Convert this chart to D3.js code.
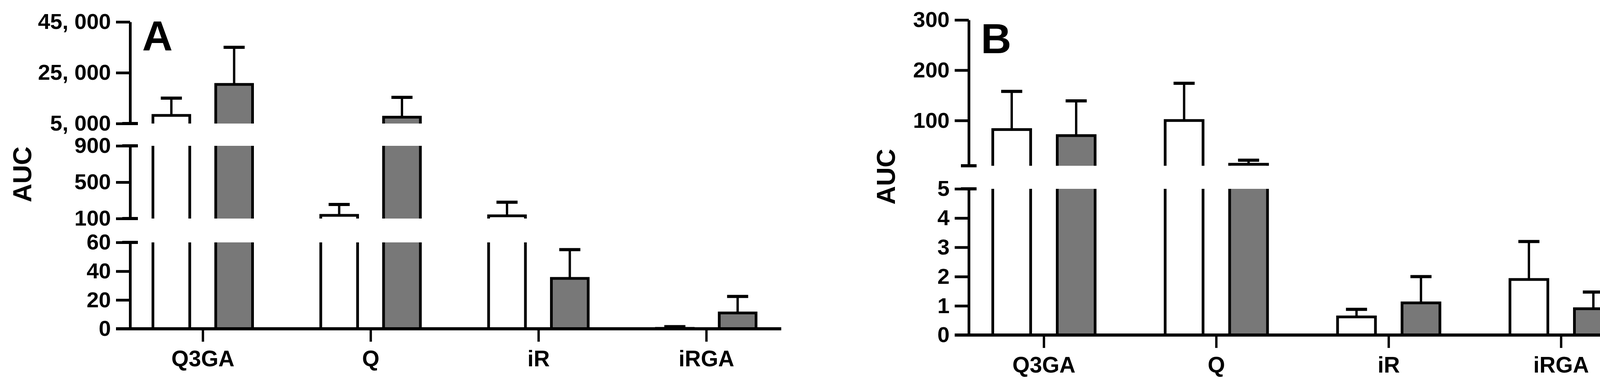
<!DOCTYPE html>
<html>
<head>
<meta charset="utf-8">
<script src="https://cdn.jsdelivr.net/npm/d3@7"></script>
<style>
  html, body { margin: 0; padding: 0; background: #fff; }
  svg { display: block; }
  text { font-family: "Liberation Sans", Arial, Helvetica, sans-serif; font-weight: bold; fill: #000; }
</style>
</head>
<body>
<svg id="chart" width="4240" height="995"></svg>
<script>
// ---------------- DATA ----------------
const categories = ["Q3GA", "Q", "iR", "iRGA"];
const seriesNames = ["open", "filled"];

// Panel A
const aOpen     = [8200, 135, 130, 0.3];
const aOpenSD   = [6800, 120, 150, 1.2];
const aFilled   = [20400, 7500, 35, 11];
const aFilledSD = [14600, 7800, 20, 11.5];
const aSegDomains = [[0, 60], [100, 900], [5000, 45000]];
const aTicks = [[0, 20, 40, 60], [100, 500, 900], [5000, 25000, 45000]];

// Panel B
const bOpen     = [82, 100, 0.62, 1.9];
const bOpenSD   = [76, 74, 0.26, 1.3];
const bFilled   = [70, 13, 1.1, 0.9];
const bFilledSD = [69, 8, 0.9, 0.57];
const bSegDomains = [[0, 5], [10, 300]];
const bTicks = [[0, 1, 2, 3, 4, 5], [100, 200, 300]];

// ---------------- STYLE ----------------
const SW = 7;               // stroke width
const FILL_GRAY = "#787878";
const svg = d3.select("#chart");
let clipId = 0;

function drawPanel(cfg) {
  const g = svg.append("g");
  const x = d3.scalePoint().domain(categories).range(cfg.catRange);
  const xs = d3.scaleBand().domain(seriesNames).range(cfg.subRange).paddingInner(0.37);
  const data = categories.map((c, i) => ({
    cat: c,
    bars: [
      { s: "open", v: cfg.open[i], sd: cfg.openSD[i], fill: "#fff" },
      { s: "filled", v: cfg.filled[i], sd: cfg.filledSD[i], fill: FILL_GRAY }
    ]
  }));

  cfg.segments.forEach((seg, si) => {
    const y = d3.scaleLinear().domain(seg.domain).range(seg.range);
    const id = "clip" + (clipId++);
    const top = seg.range[1], bot = seg.range[0];
    const isLowest = si === 0;
    g.append("clipPath").attr("id", id).append("rect")
      .attr("x", 0).attr("width", 4240)
      .attr("y", top).attr("height", (isLowest ? bot + SW : bot) - top);
    const sg = g.append("g").attr("clip-path", `url(#${id})`);

    data.forEach(d => {
      d.bars.forEach(b => {
        const x0 = x(d.cat) + xs(b.s);
        const bw = xs.bandwidth();
        if (b.v > seg.domain[0]) {
          const yTop = y(b.v);
          const yBot = isLowest ? y(0) : bot + 40;
          sg.append("rect")
            .attr("x", x0 + SW / 2).attr("width", bw - SW)
            .attr("y", yTop).attr("height", Math.max(0, yBot - yTop))
            .attr("fill", b.fill).attr("stroke", "#000").attr("stroke-width", SW);
        }
        const hi = b.v + b.sd;
        const cx = x0 + bw / 2;
        sg.append("line")
          .attr("x1", cx).attr("x2", cx)
          .attr("y1", y(b.v)).attr("y2", y(hi))
          .attr("stroke", "#000").attr("stroke-width", SW - 1);
        sg.append("line")
          .attr("x1", cx - 27).attr("x2", cx + 27)
          .attr("y1", y(hi)).attr("y2", y(hi))
          .attr("stroke", "#000").attr("stroke-width", SW + 1);
      });
    });

    // y axis segment
    const ax = g.append("g").attr("transform", `translate(${cfg.axisX},0)`)
      .call(d3.axisLeft(y).tickValues(seg.ticks).tickSize(36).tickSizeOuter(0)
        .tickPadding(13).tickFormat(cfg.fmt));
    ax.select(".domain").attr("stroke", "#000").attr("stroke-width", SW);
    ax.selectAll(".tick line").attr("stroke", "#000").attr("stroke-width", SW);
    ax.selectAll(".tick text").attr("font-size", 56)
      .style("font-family", '"Liberation Sans", Arial, sans-serif').style("font-weight", "bold");

    // break caps
    const capYs = [];
    if (si > 0) capYs.push(y(seg.domain[0]));
    if (si < cfg.segments.length - 1) capYs.push(y(seg.domain[1]));
    capYs.forEach(cy => {
      g.append("line")
        .attr("x1", cfg.axisX - 20).attr("x2", cfg.axisX + 20)
        .attr("y1", cy).attr("y2", cy)
        .attr("stroke", "#000").attr("stroke-width", SW + 1);
    });
  });

  // x axis
  const baseY = cfg.segments[0].range[0];
  g.append("line")
    .attr("x1", cfg.axisX - 36).attr("x2", cfg.xEnd)
    .attr("y1", baseY).attr("y2", baseY)
    .attr("stroke", "#000").attr("stroke-width", SW + 1);
  const xa = g.append("g").attr("transform", `translate(0,${baseY})`)
    .call(d3.axisBottom(x).tickSize(33).tickPadding(23).tickSizeOuter(0));
  xa.select(".domain").remove();
  xa.selectAll(".tick line").attr("stroke", "#000").attr("stroke-width", SW - 1);
  xa.selectAll(".tick text").attr("font-size", 57)
    .style("font-family", '"Liberation Sans", Arial, sans-serif').style("font-weight", "bold");

  // y label
  g.append("text")
    .attr("transform", `translate(${cfg.yLabel[0]},${cfg.yLabel[1]}) rotate(-90)`)
    .attr("text-anchor", "middle").attr("dominant-baseline", "central")
    .attr("font-size", 66).text("AUC");

  // panel letter
  g.append("text").attr("x", cfg.letterPos[0]).attr("y", cfg.letterPos[1])
    .attr("font-size", 108).text(cfg.letter);
}

const fmtA = d => d3.format(",")(d).replace(",", ", ");

drawPanel({
  open: aOpen, openSD: aOpenSD, filled: aFilled, filledSD: aFilledSD,
  catRange: [519, 1808], subRange: [-131, 131],
  axisX: 333, xEnd: 2000,
  segments: [
    { domain: aSegDomains[0], range: [841, 620], ticks: aTicks[0] },
    { domain: aSegDomains[1], range: [559, 373], ticks: aTicks[1] },
    { domain: aSegDomains[2], range: [316, 56], ticks: aTicks[2] }
  ],
  fmt: fmtA,
  yLabel: [57, 446],
  letter: "A", letterPos: [364, 129]
});

drawPanel({
  open: bOpen, openSD: bOpenSD, filled: bFilled, filledSD: bFilledSD,
  catRange: [2672, 3996], subRange: [-134, 135],
  axisX: 2480, xEnd: 4193,
  segments: [
    { domain: bSegDomains[0], range: [857, 483], ticks: bTicks[0] },
    { domain: bSegDomains[1], range: [424, 51], ticks: bTicks[1] }
  ],
  fmt: d3.format("d"),
  yLabel: [2268, 452],
  letter: "B", letterPos: [2511, 136]
});
</script>
</body>
</html>
